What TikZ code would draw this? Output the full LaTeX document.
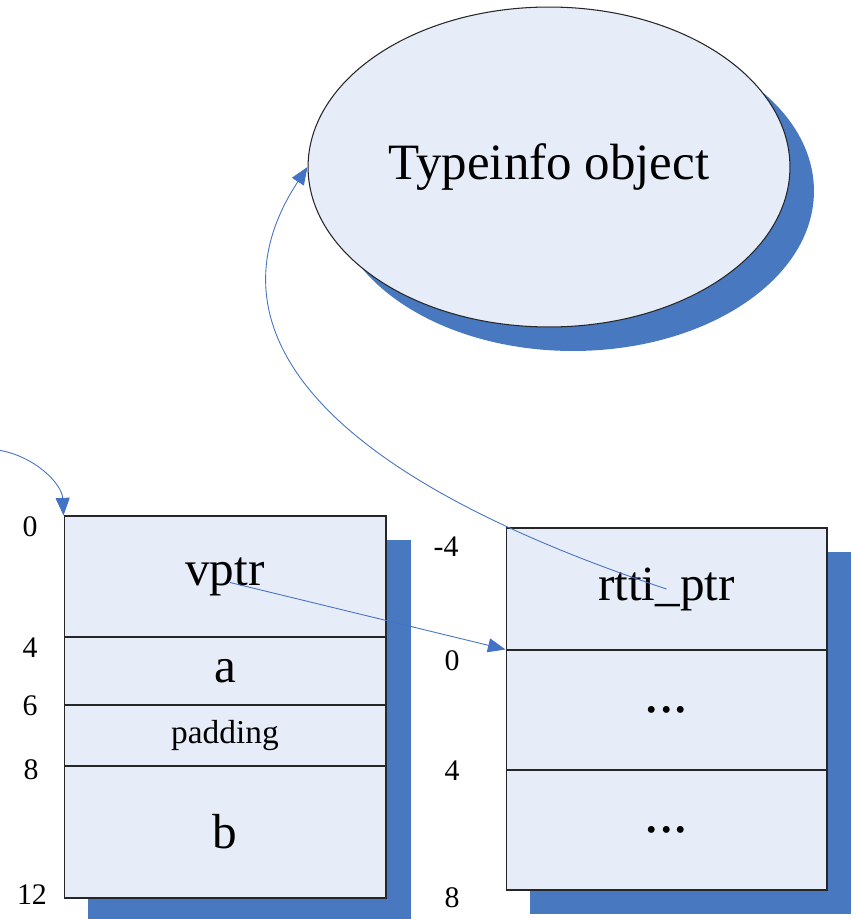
\documentclass[tikz,border=0pt]{standalone}
\usepackage{fontspec}
\setmainfont{Liberation Serif}
\usetikzlibrary{arrows.meta,shapes.geometric,calc}
\definecolor{cellfill}{RGB}{231,237,248}
\definecolor{shadowblue}{RGB}{72,121,192}
\definecolor{linkblue}{RGB}{68,114,196}

\begin{document}
\begin{tikzpicture}[x=0.02cm,y=-0.02cm,
	cell/.style={draw=black!85,line width=0.6pt,fill=cellfill,inner sep=0pt,font=\fontsize{28}{30}\selectfont},
	offset/.style={font=\fontsize{17}{19}\selectfont},
	link/.style={-{Triangle[length=10pt,width=8pt]},linkblue,line width=0.5pt}]
		\useasboundingbox (0,0) rectangle (857,919);
		% shadows
		\fill[shadowblue] (88,540) rectangle (411,922);
		\fill[shadowblue] (530,552) rectangle (851,914);
		\fill[shadowblue] (573,191) ellipse [x radius=4.82cm, y radius=3.2cm];
		\node[cell,ellipse,minimum width=9.64cm,minimum height=6.4cm,font=\fontsize{29}{31}\selectfont] (tinfo) at (549,167) {Typeinfo object};
		% object layout
		\node[cell,minimum width=6.44cm,minimum height=2.42cm] (vptr) at (225,576.5) {vptr};
		\node[cell,minimum width=6.44cm,minimum height=1.36cm] (a) at (225,671) {a};
		\node[cell,minimum width=6.44cm,minimum height=1.22cm,font=\fontsize{19}{21}\selectfont] (pad) at (225,735.5) {padding};
		\node[cell,minimum width=6.44cm,minimum height=2.64cm] (b) at (225,832) {b};
		\node[offset] (l0) at (30,527) {0};
		\node[offset] (l4) at (30,648) {4};
		\node[offset] (l6) at (30,706) {6};
		\node[offset] (l8) at (31,770) {8};
		\node[offset] (l12) at (32,895) {12};
		% vtable
		\node[cell,minimum width=6.42cm,minimum height=2.44cm] (rtti) at (666.5,589) {rtti\_ptr};
		\node[cell,minimum width=6.42cm,minimum height=2.4cm,font=\fontsize{33}{35}\selectfont] (d1) at (666.5,710) {...};
		\node[cell,minimum width=6.42cm,minimum height=2.4cm,font=\fontsize{33}{35}\selectfont] (d2) at (666.5,830) {...};
		\node[offset] (r-4) at (446,547) {-4};
		\node[offset] (r0) at (452,661) {0};
		\node[offset] (r4) at (452,771) {4};
		\node[offset] (r8) at (452,898) {8};
		% pointers
		\coordinate (vin) at (-2,450);
		\draw[link] (vin) .. controls (35,456) and (62,484) .. (vptr.north west);
		\draw[link] ([xshift=0.1cm,yshift=-0.12cm]vptr.center) -- (d1.north west);
		\draw[link] (rtti.center) .. controls (285,462) and (212,312) .. (tinfo.west);
	\end{tikzpicture}
\end{document}
